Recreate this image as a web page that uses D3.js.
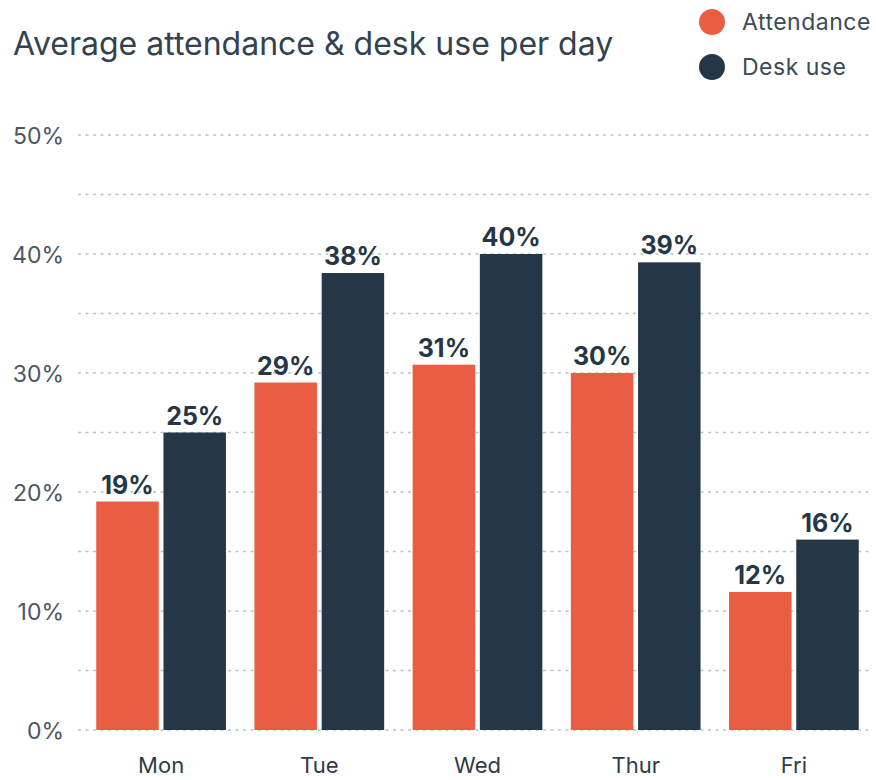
<!DOCTYPE html>
<html>
<head>
<meta charset="utf-8">
<script src="https://cdn.jsdelivr.net/npm/d3@7"></script>
<style>
  html, body { margin: 0; padding: 0; background: #fff; }
  svg { display: block; font-family: Inter, "Noto Sans", sans-serif; }
</style>
</head>
<body>
<svg id="chart" width="876" height="780"></svg>
<script>
// Average share of staff attending and desks in use, by weekday
const days = ["Mon", "Tue", "Wed", "Thur", "Fri"];
const seriesNames = ["Attendance", "Desk use"];
const attendance = [19.2, 29.2, 30.7, 30.0, 11.6];
const deskUse = [25.0, 38.4, 40.0, 39.3, 16.0];
const yTicks = [0, 10, 20, 30, 40, 50];
const gridLevels = [0, 5, 10, 15, 20, 25, 30, 35, 40, 45, 50];
const colors = ["#E95E42", "#253746"];

const rows = days.map((d, i) => ({ day: d, values: [attendance[i], deskUse[i]] }));

const svg = d3.select("#chart");

const y = d3.scaleLinear().domain([0, 50]).range([730, 135]);
const x = d3.scaleBand().domain(days).range([82, 873]).paddingInner(0.18).paddingOuter(0.09);
const xs = d3.scaleBand().domain(seriesNames).range([0, x.bandwidth()]).paddingInner(0.07);

// Title
svg.append("text")
  .attr("x", 13).attr("y", 55)
  .attr("font-size", 32).attr("font-weight", 400)
  .attr("fill", "#33424f")
  .text("Average attendance & desk use per day");

// Legend
const legend = svg.append("g");
seriesNames.forEach((name, i) => {
  const g = legend.append("g").attr("transform", `translate(712, ${22 + i * 45})`);
  g.append("circle").attr("r", 13).attr("fill", colors[i]);
  g.append("text").attr("x", 30).attr("y", 8)
    .attr("font-size", 23).attr("letter-spacing", 0.5)
    .attr("fill", "#3b4a56").text(name);
});

// Dashed grid every 5%
svg.append("g")
  .selectAll("line")
  .data(gridLevels)
  .join("line")
  .attr("x1", 78).attr("x2", 873)
  .attr("y1", d => y(d)).attr("y2", d => y(d))
  .attr("stroke", "#b9c4cc").attr("stroke-width", 1.5)
  .attr("stroke-dasharray", "3,4.5");

// Y axis labels
const yAxis = d3.axisLeft(y).tickValues(yTicks).tickFormat(d => d + "%").tickSize(0).tickPadding(0);
const yg = svg.append("g").attr("transform", "translate(64,0)").call(yAxis);
yg.select(".domain").remove();
yg.selectAll("text")
  .attr("font-family", "Inter, sans-serif")
  .attr("font-size", 23).attr("fill", "#4b5661")
  .attr("dy", "0.35em");

// Bars
const groups = svg.append("g")
  .selectAll("g")
  .data(rows)
  .join("g")
  .attr("transform", d => `translate(${x(d.day)},0)`);

groups.selectAll("rect")
  .data(d => d.values.map((v, i) => ({ key: seriesNames[i], v, i })))
  .join("rect")
  .attr("x", d => xs(d.key))
  .attr("width", xs.bandwidth())
  .attr("y", d => y(d.v))
  .attr("height", d => y(0) - y(d.v))
  .attr("fill", d => colors[d.i]);

// Value labels
groups.selectAll("text.val")
  .data(d => d.values.map((v, i) => ({ key: seriesNames[i], v, i })))
  .join("text")
  .attr("class", "val")
  .attr("x", d => xs(d.key) + xs.bandwidth() / 2)
  .attr("y", d => y(d.v) - 8)
  .attr("text-anchor", "middle")
  .attr("font-size", 25).attr("font-weight", 700)
  .attr("fill", "#253746")
  .text(d => Math.round(d.v) + "%");

// X axis labels
const xAxis = d3.axisBottom(x).tickSize(0).tickPadding(0);
const xg = svg.append("g").attr("transform", "translate(0,773)").call(xAxis);
xg.select(".domain").remove();
xg.selectAll("text")
  .attr("font-family", "Inter, sans-serif")
  .attr("font-size", 22).attr("fill", "#2f3b45")
  .attr("dy", "0");
</script>
</body>
</html>
